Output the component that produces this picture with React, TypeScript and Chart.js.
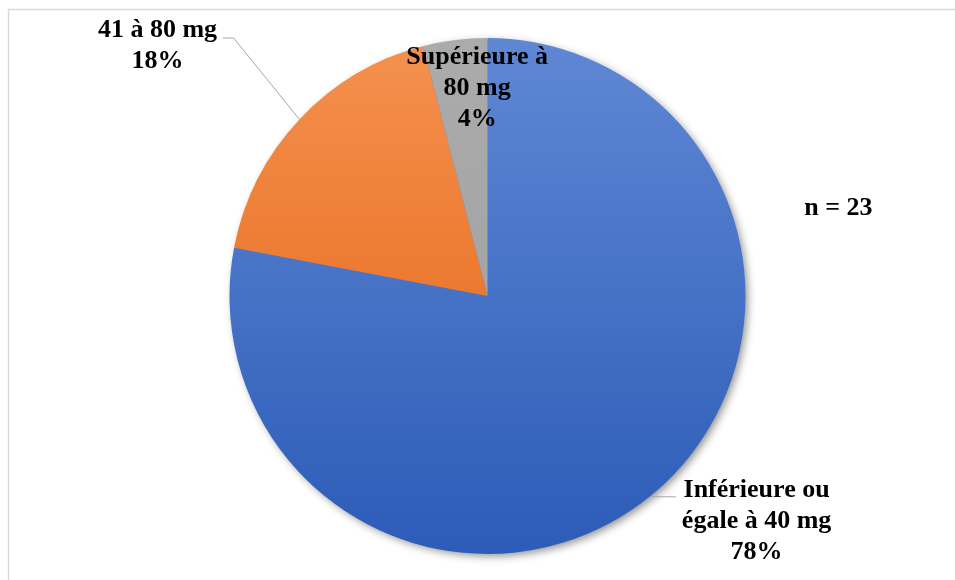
import React, { useEffect, useRef } from "react";
import { Chart, registerables } from "chart.js";

Chart.register(...registerables);

const categories = ["Inférieure ou égale à 40 mg", "41 à 80 mg", "Supérieure à 80 mg"];
const labelLines = [["Inférieure ou", "égale à 40 mg"], ["41 à 80 mg"], ["Supérieure à", "80 mg"]];
const percentages = [78, 18, 4];
const annotation = "n = 23";

const FONT = "bold 26px 'Liberation Serif', 'Times New Roman', serif";

const gradientStops: [string, string][] = [
  ["#5F87D4", "#2C5CB8"],
  ["#F4914F", "#E4600F"],
  ["#ABABAB", "#9E9E9E"],
];

const framePlugin = {
  id: "frame",
  beforeDraw(chart: any) {
    const ctx = chart.ctx;
    ctx.save();
    ctx.fillStyle = "#ffffff";
    ctx.fillRect(0, 0, chart.width, chart.height);
    ctx.strokeStyle = "#D9D9D9";
    ctx.lineWidth = 1.5;
    ctx.beginPath();
    ctx.moveTo(8.5, chart.height);
    ctx.lineTo(8.5, 9.5);
    ctx.lineTo(chart.width, 9.5);
    ctx.stroke();
    ctx.restore();
  },
};

const shadowPlugin = {
  id: "pieShadow",
  beforeDatasetsDraw(chart: any) {
    const meta = chart.getDatasetMeta(0);
    const arc = meta.data[0];
    if (!arc) return;
    const { x, y, outerRadius } = arc.getProps(["x", "y", "outerRadius"], true);
    const ctx = chart.ctx;
    ctx.save();
    ctx.shadowColor = "rgba(0,0,0,0.45)";
    ctx.shadowBlur = 9;
    ctx.shadowOffsetX = 3;
    ctx.shadowOffsetY = 3;
    ctx.fillStyle = "#4a70c0";
    ctx.beginPath();
    ctx.arc(x, y, outerRadius - 1, 0, Math.PI * 2);
    ctx.fill();
    ctx.restore();
  },
};

const labelPlugin = {
  id: "sliceLabels",
  afterDatasetsDraw(chart: any) {
    const meta = chart.getDatasetMeta(0);
    const ctx = chart.ctx;
    const first = meta.data[0];
    if (!first) return;
    const { x: cx, y: cy, outerRadius: r } = first.getProps(["x", "y", "outerRadius"], true);
    const lh = 31;
    ctx.save();
    ctx.font = FONT;
    ctx.fillStyle = "#000000";
    ctx.textAlign = "center";
    ctx.textBaseline = "middle";

    const edge = (i: number) => {
      const a = meta.data[i].getProps(["startAngle", "endAngle"], true);
      const mid = (a.startAngle + a.endAngle) / 2;
      return { x: cx + r * Math.cos(mid), y: cy + r * Math.sin(mid) };
    };

    const drawBlock = (i: number, x: number, yTop: number) => {
      const lines = [...labelLines[i], percentages[i] + "%"];
      lines.forEach((t, k) => ctx.fillText(t, x, yTop + k * lh));
    };

    ctx.strokeStyle = "#A6A6A6";
    ctx.lineWidth = 1;

    // Blue slice leader + label
    const e0 = edge(0);
    ctx.beginPath();
    ctx.moveTo(e0.x, e0.y + 2);
    ctx.lineTo(cx + r * 0.73, e0.y + 2);
    ctx.stroke();
    drawBlock(0, cx + r * 1.043, cy + r * 0.752);

    // Orange slice leader + label
    const e1 = edge(1);
    const lx = cx - r * 0.984;
    const ly = cy - r * 1.0;
    ctx.beginPath();
    ctx.moveTo(e1.x, e1.y);
    ctx.lineTo(lx, ly);
    ctx.lineTo(lx - 11, ly);
    ctx.stroke();
    drawBlock(1, cx - r * 1.279, cy - r * 1.031);

    // Gray slice label (inside)
    drawBlock(2, cx - r * 0.04, cy - r * 0.926);

    // Annotation
    ctx.fillText(annotation, cx + r * 1.36, cy - r * 0.34);
    ctx.restore();
  },
};

export default function App() {
  const ref = useRef<HTMLCanvasElement | null>(null);

  useEffect(() => {
    if (!ref.current) return;
    const chart = new Chart(ref.current, {
      type: "pie",
      data: {
        labels: categories,
        datasets: [
          {
            data: percentages,
            borderWidth: 0,
            backgroundColor: (c: any) => {
              const ch = c.chart;
              const area = ch.chartArea;
              const stops = gradientStops[c.dataIndex % gradientStops.length];
              if (!area) return stops[0];
              const g = ch.ctx.createLinearGradient(0, area.top, 0, area.bottom);
              g.addColorStop(0, stops[0]);
              g.addColorStop(1, stops[1]);
              return g;
            },
          },
        ],
      },
      options: {
        responsive: false,
        animation: false,
        layout: { padding: { top: 38, bottom: 26, left: 229, right: 209 } },
        plugins: {
          legend: { display: false },
          tooltip: { enabled: false },
        },
      },
      plugins: [framePlugin, shadowPlugin, labelPlugin],
    });
    return () => chart.destroy();
  }, []);

  return (
    <div style={{ position: "fixed", left: 0, top: 0, width: 955, height: 580, background: "#fff" }}>
      <canvas ref={ref} width={955} height={580} style={{ display: "block" }} />
    </div>
  );
}
